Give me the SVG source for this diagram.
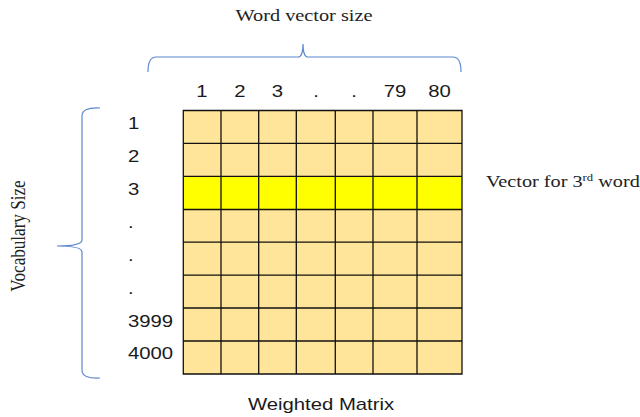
<svg xmlns="http://www.w3.org/2000/svg" width="640" height="417" viewBox="0 0 640 417">
<style>
.serif{font-family:"Liberation Serif","Times New Roman",serif;font-size:16px;fill:#222}
.sans{font-family:"Liberation Sans",Arial,sans-serif;font-size:16px;fill:#1a1a1a}
.brace{fill:none;stroke:#5B87CF;stroke-width:1.2}
.grid{stroke:#111;stroke-width:1.3;fill:none}
</style>
<rect width="640" height="417" fill="#fff"/>
<g id="title"><text class="serif" transform="translate(304,21) scale(1.27,1)" text-anchor="middle">Word vector size</text></g>
<g id="connectors">
<path class="brace" d="M148,72 Q148,57 156,57 L298,57 Q303,57 303,44 Q303,57 308,57 L453,57 Q461,57 461,72"/>
<path class="brace" d="M100,108 Q82,107 82,116 L82,240 Q82,246 57,246 Q82,246 82,252 L82,370 Q82,379 100,378"/>
</g>
<g id="col-labels" class="sans" text-anchor="middle">
<text transform="translate(202,97) scale(1.27,1)">1</text>
<text transform="translate(240,97) scale(1.27,1)">2</text>
<text transform="translate(277.5,97) scale(1.27,1)">3</text>
<text transform="translate(316,97) scale(1.27,1)">.</text>
<text transform="translate(354,97) scale(1.27,1)">.</text>
<text transform="translate(395,97) scale(1.27,1)">79</text>
<text transform="translate(439.5,97) scale(1.27,1)">80</text>
</g>
<g id="row-labels" class="sans">
<text transform="translate(128,129) scale(1.27,1)">1</text>
<text transform="translate(128,162) scale(1.27,1)">2</text>
<text transform="translate(128,194.5) scale(1.27,1)">3</text>
<text transform="translate(128,227.5) scale(1.27,1)">.</text>
<text transform="translate(128,260.5) scale(1.27,1)">.</text>
<text transform="translate(128,293.5) scale(1.27,1)">.</text>
<text transform="translate(128,326.5) scale(1.27,1)">3999</text>
<text transform="translate(128,358.5) scale(1.27,1)">4000</text>
</g>
<g id="vocab-label"><text class="serif" transform="translate(25,236) rotate(-90) scale(1.07,1.27)" text-anchor="middle">Vocabulary Size</text></g>
<g id="matrix">
<rect x="183.3" y="110.5" width="278.7" height="263.5" fill="#FFE599"/>
<rect x="183.3" y="176.5" width="278.7" height="33" fill="#FFFF00"/>
<path class="grid" d="M183.3,110.5H462V374H183.3Z M221,110.5V374 M258.7,110.5V374 M296.3,110.5V374 M335.3,110.5V374 M373,110.5V374 M417,110.5V374 M183.3,143.4H462 M183.3,176.4H462 M183.3,209.5H462 M183.3,242.2H462 M183.3,275.1H462 M183.3,308H462 M183.3,341H462"/>
</g>
<g id="vector-label"><text class="serif" transform="translate(486,187) scale(1.265,1)">Vector for 3<tspan font-size="10" dy="-6">rd</tspan><tspan dy="6"> word</tspan></text></g>
<g id="matrix-label"><text class="sans" transform="translate(321,410) scale(1.27,1)" text-anchor="middle">Weighted Matrix</text></g>
</svg>
